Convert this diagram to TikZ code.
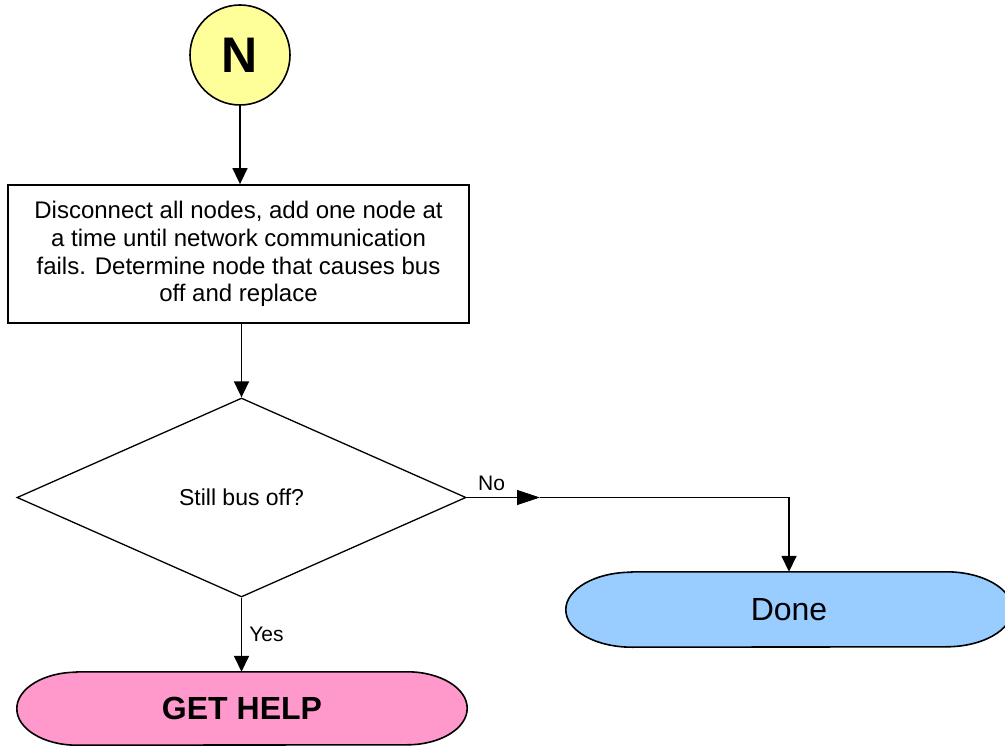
\documentclass[tikz,border=0pt]{standalone}
\usepackage{fontspec}
\setmainfont{Liberation Sans}
\usetikzlibrary{arrows.meta,shapes.geometric,backgrounds}
\definecolor{cyellow}{HTML}{FFFF99}
\definecolor{cblue}{HTML}{99CCFF}
\definecolor{cpink}{HTML}{FF99CC}
\newcommand\termoutline[4]{%
  \begin{scope}[on background layer]
    \draw[termline,fill=#4] ([xshift=#2]#1.north west) -- ([xshift=-#2]#1.north east)
      arc[start angle=90,end angle=-90,x radius=#2,y radius=#3]
      -- ([xshift=#2]#1.south west)
      arc[start angle=270,end angle=90,x radius=#2,y radius=#3] -- cycle;
  \end{scope}}
\begin{document}
\begin{tikzpicture}[x=1pt,y=-1pt,
  termline/.style={line width=1.6pt,draw=black},
  termnode/.style={draw=none,inner sep=0pt,rectangle},
  arr/.style={line width=1.6pt,-{Triangle[length=16pt,width=15pt]}},
  thinarr/.style={line width=0.8pt,-{Triangle[length=23pt,width=15pt]}},
  lbl/.style={inner sep=0pt,font=\fontsize{21}{24}\selectfont}]
\useasboundingbox (0,0) rectangle (1005,746);
\begin{scope}[on background layer]
  \fill[white] (0,0) rectangle (1005,746);
\end{scope}

\node[circle,draw=black,line width=1.6pt,fill=cyellow,minimum size=100pt,inner sep=0pt,
  font=\fontsize{50}{56}\selectfont\bfseries] (n) at (240,55) {N};

\node[rectangle,draw=black,line width=1.8pt,fill=white,minimum width=461pt,minimum height=138pt,
  inner sep=0pt,align=center,font=\fontsize{24}{27.6}\selectfont] (box) at (238.5,254)
  {Disconnect all nodes, add one node at\\a time until network communication\\fails. Determine node that causes bus\\off and replace};

\node[diamond,draw=black,line width=1.3pt,fill=white,minimum width=449pt,minimum height=199pt,
  inner sep=0pt,font=\fontsize{23}{26}\selectfont] (dia) at (241.5,497.5) {Still bus off?};

\node[termnode,minimum width=446pt,minimum height=75pt,font=\fontsize{32}{36}\selectfont] (done) at (789,609.5) {Done};
\termoutline{done}{66pt}{37.5pt}{cblue}

\node[termnode,minimum width=450pt,minimum height=73pt,font=\fontsize{32}{36}\selectfont\bfseries] (help) at (242,708.5) {GET HELP};
\termoutline{help}{60pt}{36.5pt}{cpink}

\coordinate (noarr) at (540,497.5);

\draw[arr] (n.south) -- (n.south |- box.north);
\draw[arr] (box.south -| dia.north) -- (dia.north);
\draw[arr] (dia.south) -- node[lbl,right=7pt]{Yes} (dia.south |- help.north);
\draw[thinarr] (dia.east) -- node[lbl,pos=0.34,above=6pt]{No} (noarr);
\draw[arr] (noarr) -| (done.north);
\end{tikzpicture}
\end{document}
